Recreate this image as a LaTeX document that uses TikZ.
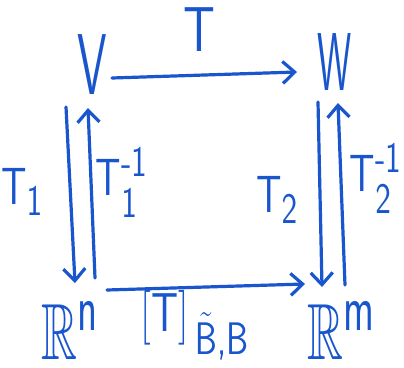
\documentclass[tikz,border=0pt]{standalone}
\usepackage{amsmath,amssymb}
\usetikzlibrary{arrows.meta,calc}
\definecolor{pen}{RGB}{25,85,205}
\begin{document}
\begin{tikzpicture}[x=1pt,y=-1pt,
  every node/.style={inner sep=0pt, text=pen, font=\Huge\sffamily},
  lbl/.style={xscale=1.6, yscale=2.1},
  arr/.style={draw=pen, line width=3.2pt, line cap=round,
    -{Straight Barb[length=12pt,width=22pt]}}]
\useasboundingbox (0,0) rectangle (404,367);
\node[xscale=1.9, yscale=3.47] (V) at (92,65) {V};
\node[xscale=1.55, yscale=3.3] (W) at (335,62) {W};
\node[xscale=2.0, yscale=3.2] (Rn) at (70,331) {$\mathbb{R}^{\mathsf{n}}$};
\node[xscale=2.0, yscale=3.2] (Rm) at (341,331) {$\mathbb{R}^{\mathsf{m}}$};
\node[xscale=2.0, yscale=2.55] (tT) at (199,30) {T};
\node[lbl] (t1) at (22,192) {$\mathsf{T}_{\mathsf{1}}$};
\node[lbl] (t1i) at (122,188) {$\mathsf{T}_{\mathsf{1}\vphantom{|}}^{\text{-1}}$};
\node[lbl] (t2) at (277,200) {$\mathsf{T}_{\mathsf{2}}$};
\node[lbl] (t2i) at (376,184) {$\mathsf{T}_{\mathsf{2}\vphantom{|}}^{\text{-1}}$};
\node[xscale=1.7, yscale=2.2] (tB) at (195,325) {$[\mathsf{T}]_{\,\tilde{\mathsf{B}}\text{,}\mathsf{B}}$};
\draw[arr] ($(V)+(20,13)$) -- ($(W)+(-38,10)$);
\draw[arr] ($(V)+(-26,42)$) -- ($(Rn)+(5,-48)$);
\draw[arr] ($(Rn)+(25,-53)$) -- ($(V)+(-4,43)$);
\draw[arr] ($(W)+(-17,40)$) -- ($(Rm)+(-19,-44)$);
\draw[arr] ($(Rm)+(4,-46)$) -- ($(W)+(3,41)$);
\draw[arr] ($(Rn)+(37,-41)$) -- ($(Rm)+(-36,-47)$);
\end{tikzpicture}
\end{document}
